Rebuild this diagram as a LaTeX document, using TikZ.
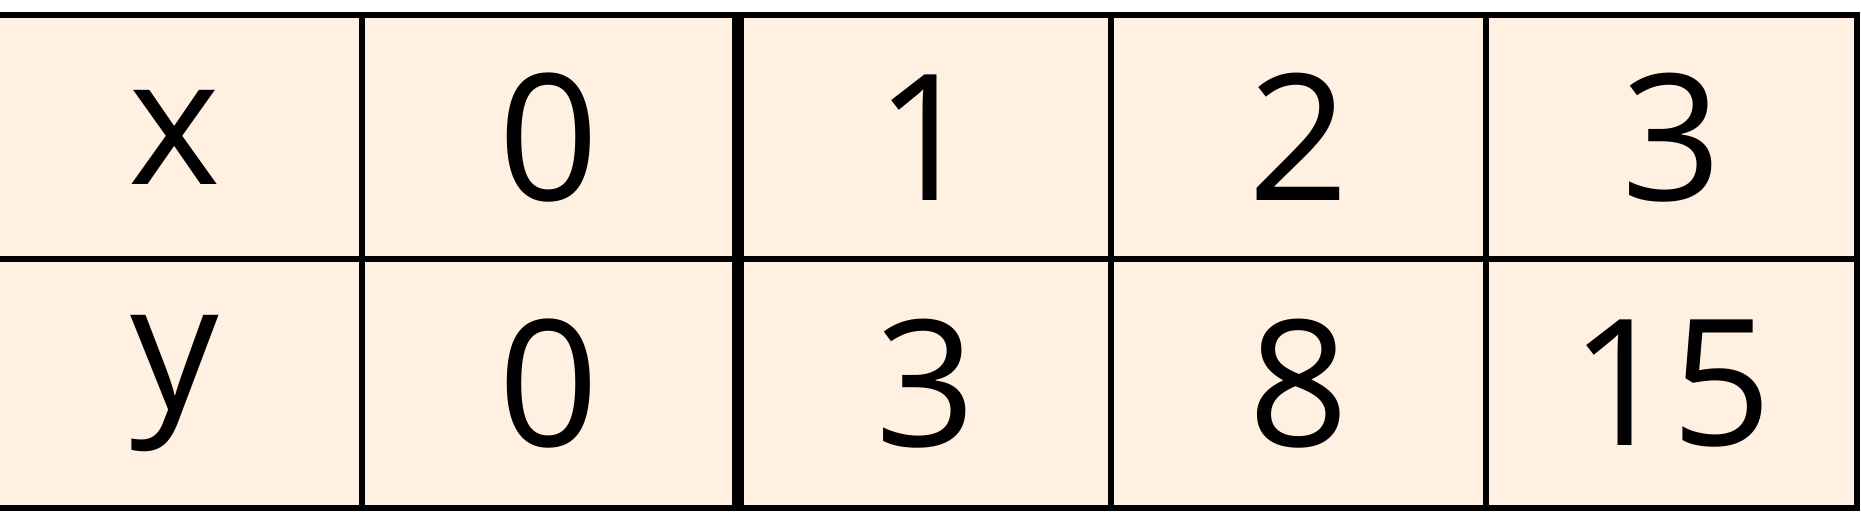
\documentclass[tikz,border=0pt]{standalone}
\usepackage{fontspec}
\setmainfont{Open Sans}
\definecolor{cellfill}{HTML}{FFF0E1}
\newcommand\mkcell[6]{%
  \node[cell, minimum width={(#3-#2)*0.5pt}, minimum height={(#5-#4)*0.5pt}]
    (#1) at ({(#2+#3)/2},{(#4+#5)/2}) {#6};}
\begin{document}
\begin{tikzpicture}[x=0.5pt,y=-0.5pt,
  cell/.style={draw=black, fill=cellfill, line width=3pt, inner sep=0pt,
    font=\fontsize{88}{100}\selectfont, anchor=center}]
\useasboundingbox (0,0) rectangle (1861,512);
\mkcell{x0}{-13}{362}{15.5}{259}{x}
\mkcell{x1}{362}{735}{15.5}{259}{0}
\mkcell{x2}{741}{1111}{15.5}{259}{1}
\mkcell{x3}{1111}{1486}{15.5}{259}{2}
\mkcell{x4}{1486}{1857}{15.5}{259}{3}
\mkcell{y0}{-13}{362}{259}{508}{y}
\mkcell{y1}{362}{735}{259}{508}{0}
\mkcell{y2}{741}{1111}{259}{508}{3}
\mkcell{y3}{1111}{1486}{259}{508}{8}
\mkcell{y4}{1486}{1857}{259}{508}{15}
\end{tikzpicture}
\end{document}
